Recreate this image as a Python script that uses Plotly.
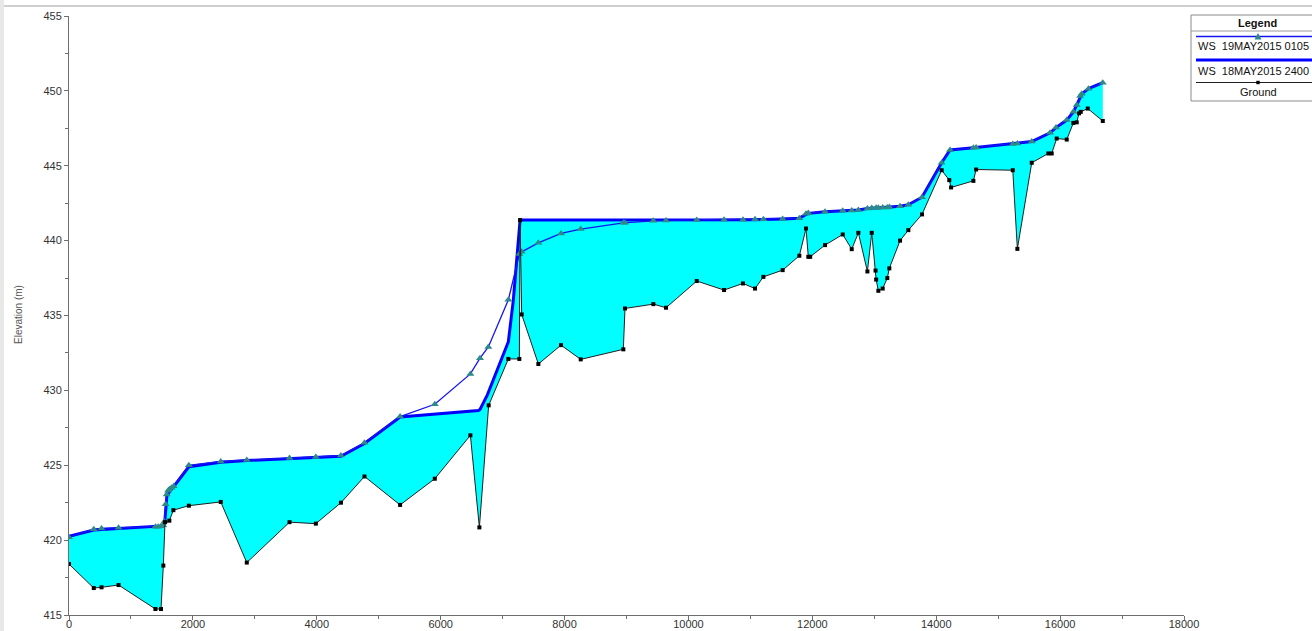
import plotly.graph_objects as go

# ---------------- data ----------------
ground_x = [0, 400, 525, 800, 1395, 1485, 1523, 1550, 1620, 1685, 1935, 2450, 2870, 3560,
            3985, 4390, 4770, 5345, 5905, 6480, 6625, 6775, 7093, 7270, 7282, 7308, 7577,
            7943, 8261, 8949, 8976, 9433, 9638, 10134, 10575, 10880, 11075, 11210, 11521,
            11790, 11898, 11935, 11965, 12205, 12491, 12636, 12743, 12889, 12959, 13020,
            13030, 13066, 13136, 13210, 13243, 13416, 13550, 13770, 14088, 14211, 14240,
            14600, 14644, 15236, 15310, 15542, 15810, 15864, 15945, 16107, 16214, 16268,
            16306, 16333, 16446, 16689]
ground_y = [418.4, 416.8, 416.85, 417.0, 415.4, 415.4, 418.3, 421.2, 421.3, 422.0, 422.3,
            422.55, 418.5, 421.2, 421.1, 422.5, 424.25, 422.35, 424.1, 427.0, 420.85, 429.0,
            432.1, 432.1, 441.37, 435.07, 431.76, 433.02, 432.07, 432.74, 435.47, 435.76,
            435.52, 437.3, 436.7, 437.14, 436.8, 437.58, 438.03, 438.99, 440.81, 438.92,
            438.92, 439.7, 440.41, 439.43, 440.52, 437.94, 440.52, 438.0, 437.4, 436.65,
            436.8, 437.5, 438.15, 440.0, 440.7, 441.75, 444.7, 444.04, 443.55, 443.99,
            444.75, 444.7, 439.45, 445.2, 445.82, 445.82, 446.82, 446.75, 447.86, 447.9,
            448.5, 448.6, 448.82, 447.99]

ws19_x = [0, 400, 525, 800, 1395, 1440, 1485, 1520, 1540, 1560, 1578, 1600, 1620, 1655,
          1690, 1935, 2450, 2870, 3560, 3985, 4390, 4770, 5345, 5905, 6480, 6635, 6770,
          7093, 7270, 7308, 7577, 7943, 8261, 8949, 8976, 9433, 9638, 10134, 10575, 10880,
          11075, 11210, 11521, 11790, 11898, 11935, 12205, 12491, 12636, 12743, 12889,
          12959, 13030, 13066, 13136, 13210, 13243, 13416, 13550, 13770, 14088, 14223,
          14600, 14644, 15236, 15310, 15542, 15838, 15934, 16107, 16214, 16268, 16324,
          16350, 16458, 16689]
ws19_y = [420.2, 420.72, 420.78, 420.82, 420.9, 420.9, 420.92, 421.0, 421.25, 422.4, 423.05,
          423.3, 423.4, 423.5, 423.6, 425.0, 425.25, 425.35, 425.48, 425.55, 425.65, 426.5,
          428.25, 429.07, 431.1, 432.15, 432.9, 436.05, 439.1, 439.25, 439.85, 440.48,
          440.77, 441.19, 441.2, 441.32, 441.35, 441.38, 441.4, 441.4, 441.42, 441.42,
          441.45, 441.5, 441.8, 441.85, 441.92, 442.0, 442.02, 442.05, 442.15, 442.18,
          442.2, 442.2, 442.22, 442.22, 442.25, 442.3, 442.4, 442.9, 445.2, 446.05, 446.2,
          446.22, 446.45, 446.48, 446.62, 447.2, 447.55, 448.05, 448.6, 449.05, 449.65,
          449.8, 450.15, 450.55]

ws18_x = [0, 400, 800, 1485, 1520, 1545, 1560, 1580, 1655, 1695, 1935, 2450, 2870, 3560,
          3985, 4390, 4770, 5345, 6608, 6635, 6754, 7093, 7173, 7282, 7577, 8949, 10134,
          11075, 11521, 11790, 11898, 11935, 12205, 12491, 12636, 12743, 12889, 12959,
          13030, 13136, 13243, 13416, 13550, 13770, 14088, 14223, 14600, 14644, 15236,
          15310, 15542, 15838, 15934, 16107, 16214, 16268, 16324, 16350, 16458, 16689]
ws18_y = [420.25, 420.68, 420.78, 420.9, 420.95, 421.15, 422.3, 422.95, 423.45, 423.6, 424.9,
          425.2, 425.32, 425.45, 425.5, 425.6, 426.45, 428.22, 428.65, 428.73, 429.7, 433.25,
          436.03, 441.37, 441.37, 441.37, 441.38, 441.4, 441.45, 441.5, 441.75, 441.82,
          441.92, 442.0, 442.02, 442.05, 442.15, 442.18, 442.2, 442.22, 442.25, 442.3, 442.4,
          442.9, 445.2, 446.05, 446.2, 446.22, 446.45, 446.48, 446.62, 447.2, 447.55, 448.05,
          448.6, 449.05, 449.65, 449.8, 450.15, 450.55]

legend_labels = ["WS\u00a0 19MAY2015 0105", "WS\u00a0 18MAY2015 2400", "Ground"]

# ---------------- figure ----------------
W, H = 1312, 631
PLOT_L, PLOT_R, PLOT_T, PLOT_B = 69, 1184, 16, 615      # plot area in page pixels
L, T, R, B = PLOT_L, PLOT_T, W - PLOT_R, H - PLOT_B


def px(x):
    return (x - PLOT_L) / (PLOT_R - PLOT_L)


def py(y):
    return (PLOT_B - y) / (PLOT_B - PLOT_T)


fig = go.Figure()

# water fill between ground and WS 18MAY2015 2400
fig.add_trace(go.Scatter(x=ground_x, y=ground_y, mode="lines", line=dict(width=0),
                         hoverinfo="skip", showlegend=False))
fig.add_trace(go.Scatter(x=ws18_x, y=ws18_y, mode="lines", line=dict(width=0),
                         fill="tonexty", fillcolor="#00FFFF", hoverinfo="skip",
                         showlegend=False))

# visible lines
fig.add_trace(go.Scatter(x=ws18_x, y=ws18_y, mode="lines", name=legend_labels[1],
                         line=dict(color="#0000FF", width=3), showlegend=False))
fig.add_trace(go.Scatter(x=ws19_x, y=ws19_y, mode="lines+markers", name=legend_labels[0],
                         line=dict(color="#1515F0", width=1.3),
                         marker=dict(symbol="triangle-up", size=7, color="#2E8A8A"),
                         showlegend=False))
fig.add_trace(go.Scatter(x=ground_x, y=ground_y, mode="lines+markers", name=legend_labels[2],
                         line=dict(color="#202020", width=1),
                         marker=dict(symbol="square", size=4, color="#000000"),
                         showlegend=False))

axis_font = dict(family="Liberation Sans, Arial, sans-serif", size=11, color="#333333")

fig.update_xaxes(range=[0, 18000], dtick=2000, tick0=0, tickformat="d", showgrid=False,
                 zeroline=False, showline=True, linecolor="#6e6e6e", linewidth=1,
                 ticks="outside", ticklen=4, tickcolor="#6e6e6e", tickfont=axis_font,
                 automargin=False, ticklabelstandoff=-5,
                 minor=dict(dtick=1000, ticks="outside", ticklen=3, tickcolor="#6e6e6e"))
fig.update_yaxes(range=[415, 455], dtick=5, tick0=415, showgrid=False, zeroline=False,
                 showline=True, linecolor="#6e6e6e", linewidth=1, ticks="outside",
                 ticklen=4, tickcolor="#6e6e6e", tickfont=axis_font, automargin=False,
                 minor=dict(dtick=2.5, ticks="outside", ticklen=3, tickcolor="#6e6e6e"))

shapes = []
annotations = []

# window chrome (top rule and left band)
shapes.append(dict(type="line", xref="paper", yref="paper", x0=px(0), x1=px(W),
                   y0=py(6), y1=py(6), line=dict(color="#cfcfcf", width=2), layer="above"))
shapes.append(dict(type="rect", xref="paper", yref="paper", x0=px(0), x1=px(4),
                   y0=py(H), y1=py(0), line=dict(width=0), fillcolor="#e8e8e8", layer="above"))

# legend box
lx0, lx1 = 1191, 1340
shapes.append(dict(type="rect", xref="paper", yref="paper", x0=px(lx0), x1=px(lx1),
                   y0=py(101), y1=py(15), line=dict(color="#8a8a8a", width=1),
                   fillcolor="#ffffff", layer="above"))
shapes.append(dict(type="line", xref="paper", yref="paper", x0=px(lx0), x1=px(lx1),
                   y0=py(31), y1=py(31), line=dict(color="#9a9a9a", width=1), layer="above"))
# entry 1: thin blue with triangle
shapes.append(dict(type="line", xref="paper", yref="paper", x0=px(1196), x1=px(lx1),
                   y0=py(36.5), y1=py(36.5), line=dict(color="#1515F0", width=1.3), layer="above"))
shapes.append(dict(type="path", xref="paper", yref="paper",
                   path=f"M {px(1254.5)},{py(39.5)} L {px(1261.5)},{py(39.5)} L {px(1258)},{py(33)} Z",
                   line=dict(width=0), fillcolor="#2E8A8A", layer="above"))
# entry 2: thick blue
shapes.append(dict(type="line", xref="paper", yref="paper", x0=px(1196), x1=px(lx1),
                   y0=py(60), y1=py(60), line=dict(color="#0000FF", width=3), layer="above"))
# entry 3: ground
shapes.append(dict(type="line", xref="paper", yref="paper", x0=px(1196), x1=px(lx1),
                   y0=py(82.5), y1=py(82.5), line=dict(color="#202020", width=1), layer="above"))
shapes.append(dict(type="rect", xref="paper", yref="paper", x0=px(1256.3), x1=px(1259.7),
                   y0=py(84.2), y1=py(80.8), line=dict(width=0), fillcolor="#000000",
                   layer="above"))

leg_font = dict(family="Liberation Sans, Arial, sans-serif", size=11, color="#111111")
annotations.append(dict(text="<b>Legend</b>", xref="paper", yref="paper", x=px(1257),
                        y=py(23), xanchor="center", yanchor="middle", showarrow=False,
                        font=leg_font))
annotations.append(dict(text=legend_labels[0], xref="paper", yref="paper", x=px(1196),
                        y=py(46), xanchor="left", yanchor="middle", showarrow=False,
                        font=leg_font))
annotations.append(dict(text=legend_labels[1], xref="paper", yref="paper", x=px(1196),
                        y=py(71), xanchor="left", yanchor="middle", showarrow=False,
                        font=leg_font))
annotations.append(dict(text=legend_labels[2], xref="paper", yref="paper", x=px(1258),
                        y=py(92), xanchor="center", yanchor="middle", showarrow=False,
                        font=leg_font))

# y-axis title
annotations.append(dict(text="Elevation (m)", xref="paper", yref="paper", x=px(18),
                        y=py(315), xanchor="center", yanchor="middle", textangle=-90,
                        showarrow=False,
                        font=dict(family="Liberation Sans, Arial, sans-serif", size=10,
                                  color="#555555")))

fig.update_layout(width=W, height=H, margin=dict(l=L, r=R, t=T, b=B, autoexpand=False),
                  paper_bgcolor="#ffffff", plot_bgcolor="#ffffff", showlegend=False,
                  shapes=shapes, annotations=annotations)

fig.write_html("out.html", config={"displayModeBar": False},
               post_script="document.body.style.margin='0';"
                           "document.body.style.overflow='hidden';")
